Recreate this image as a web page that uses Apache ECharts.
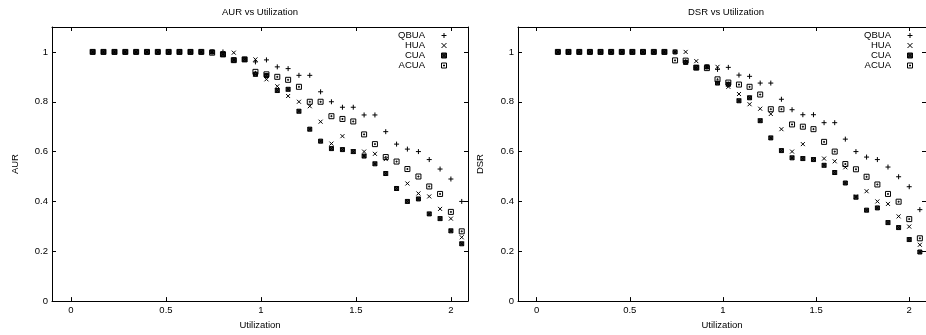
<!DOCTYPE html>
<html><head><meta charset="utf-8">
<script src="https://cdn.jsdelivr.net/npm/echarts@6/dist/echarts.min.js"></script>
<style>html,body{margin:0;padding:0;background:#fff}#c{width:926px;height:335px}</style>
</head><body><div id="c"></div>
<script>
const utilization = [0.114,0.171,0.229,0.286,0.343,0.400,0.457,0.514,0.571,0.629,0.686,0.743,0.800,0.857,0.914,0.971,1.029,1.086,1.143,1.200,1.257,1.314,1.371,1.429,1.486,1.543,1.600,1.657,1.714,1.771,1.829,1.886,1.943,2.000,2.057];

const aurQBUA = [1,1,1,1,1,1,1,1,1,1,1,1,1,0.967,0.97,0.96,0.968,0.94,0.933,0.906,0.906,0.84,0.80,0.778,0.778,0.747,0.747,0.68,0.63,0.61,0.60,0.568,0.53,0.49,0.40];
const aurHUA  = [1,1,1,1,1,1,1,1,1,1,1,1,0.995,0.997,0.97,0.97,0.89,0.862,0.823,0.80,0.782,0.72,0.632,0.662,0.60,0.60,0.591,0.57,0.45,0.472,0.432,0.42,0.37,0.331,0.256];
const aurCUA  = [1,1,1,1,1,1,1,1,1,1,1,1,0.99,0.967,0.97,0.91,0.905,0.845,0.85,0.762,0.69,0.642,0.612,0.608,0.60,0.582,0.551,0.512,0.452,0.40,0.41,0.35,0.331,0.282,0.23];
const aurACUA = [1,1,1,1,1,1,1,1,1,1,1,0.997,0.99,0.967,0.97,0.92,0.91,0.90,0.888,0.86,0.80,0.80,0.742,0.731,0.721,0.669,0.63,0.578,0.56,0.53,0.50,0.46,0.43,0.358,0.28];

const dsrQBUA = [1,1,1,1,1,1,1,1,1,1,1,1,0.96,0.937,0.94,0.93,0.938,0.907,0.902,0.875,0.875,0.81,0.768,0.748,0.748,0.716,0.716,0.65,0.60,0.578,0.568,0.538,0.499,0.459,0.367];
const dsrHUA  = [1,1,1,1,1,1,1,1,1,1,1,1,1.0,0.963,0.94,0.94,0.86,0.831,0.79,0.772,0.751,0.69,0.60,0.63,0.57,0.572,0.561,0.537,0.42,0.441,0.40,0.39,0.34,0.299,0.226];
const dsrCUA  = [1,1,1,1,1,1,1,1,1,1,1,1,0.958,0.937,0.94,0.875,0.87,0.804,0.816,0.724,0.655,0.604,0.575,0.572,0.568,0.545,0.516,0.474,0.417,0.365,0.374,0.315,0.295,0.247,0.197];
const dsrACUA = [1,1,1,1,1,1,1,1,1,1,1,0.966,0.965,0.937,0.935,0.89,0.877,0.869,0.86,0.829,0.77,0.77,0.709,0.70,0.69,0.639,0.60,0.55,0.529,0.499,0.468,0.43,0.399,0.329,0.252];

const seriesNames = ['QBUA','HUA','CUA','ACUA'];
const panelTitles = ['AUR vs Utilization','DSR vs Utilization'];
const yNames = ['AUR','DSR'];
const xName = 'Utilization';
const xTicks = [0,0.5,1,1.5,2];
const yTicks = [0,0.2,0.4,0.6,0.8,1];

const panels = [
  [aurQBUA, aurHUA, aurCUA, aurACUA],
  [dsrQBUA, dsrHUA, dsrCUA, dsrACUA]
];

const FONT = '"Liberation Sans", Arial, Helvetica, sans-serif';
const FS = 9.5;
const SYM = {
  QBUA: {symbol:'path://M5,0L5,10M0,5L10,5', size:5, fill:'none'},
  HUA:  {symbol:'path://M0,0L10,10M10,0L0,10', size:4, fill:'none'},
  CUA:  {symbol:'path://M0,0L10,0L10,10L0,10ZM0,0L10,10M10,0L0,10', size:4, fill:'#333'},
  ACUA: {symbol:'path://M0,0L10,0L10,10L0,10ZM4,4L6,4L6,6L4,6Z', size:5, fill:'none'}
};

const gridsPx = [
  {left:52, top:27, width:416, height:280},
  {left:518, top:27, width:415, height:280}
];
const titleX = [260, 726];
const yNameGap = [31.5, 32.5];
const legendRight = [472, 6];

const grid = [], xAxis = [], yAxis = [], series = [], graphic = [], legend = [];
const lineStyle = {color:'#000', width:1};
const legendData = seriesNames.map(name => ({
  name, icon: SYM[name].symbol,
  itemStyle:{color:SYM[name].fill, borderColor:'#000', borderWidth:1}
}));
gridsPx.forEach((g, gi) => {
  grid.push(Object.assign({containLabel:false}, g));
  xAxis.push({type:'value', gridIndex:gi, position:'bottom', min:-0.1, max:2.09,
    axisLine:{onZero:false, lineStyle},
    axisTick:{inside:true, length:4, customValues:xTicks, lineStyle},
    axisLabel:{customValues:xTicks, color:'#000', fontSize:FS, fontFamily:FONT, margin:4},
    splitLine:{show:false},
    name:xName, nameLocation:'middle', nameGap:18,
    nameTextStyle:{color:'#000', fontSize:FS, fontFamily:FONT}});
  xAxis.push({type:'value', gridIndex:gi, position:'top', min:-0.1, max:2.09,
    axisLine:{onZero:false, lineStyle},
    axisTick:{inside:true, length:4, customValues:xTicks, lineStyle},
    axisLabel:{show:false}, splitLine:{show:false}});
  yAxis.push({type:'value', gridIndex:gi, position:'left', min:0, max:1.1,
    axisLine:{show:true, onZero:false, lineStyle},
    axisTick:{show:true, inside:true, length:4, customValues:yTicks, lineStyle},
    axisLabel:{customValues:yTicks, color:'#000', fontSize:FS, fontFamily:FONT, margin:4},
    splitLine:{show:false},
    name:yNames[gi], nameLocation:'middle', nameGap:yNameGap[gi], nameRotate:90,
    nameTextStyle:{color:'#000', fontSize:FS, fontFamily:FONT}});
  yAxis.push({type:'value', gridIndex:gi, position:'right', min:0, max:1.1,
    axisLine:{show:true, onZero:false, lineStyle},
    axisTick:{show:true, inside:true, length:4, customValues:yTicks, lineStyle},
    axisLabel:{show:false}, splitLine:{show:false}});
  seriesNames.forEach((name, si) => {
    const s = SYM[name];
    series.push({type:'scatter', name, xAxisIndex:gi*2, yAxisIndex:gi*2,
      data: utilization.map((x, i) => [x, panels[gi][si][i]]),
      symbol:s.symbol, symbolSize:s.size,
      itemStyle:{color:s.fill, borderColor:'#000', borderWidth:1, opacity:1},
      emphasis:{disabled:true}, silent:true, z:2+si});
  });
  graphic.push({type:'text', x:titleX[gi], y:12.7,
    style:{text:panelTitles[gi], align:'center', verticalAlign:'middle', textAlign:'center', textVerticalAlign:'middle',
      fontSize:FS, fontFamily:FONT, fill:'#000'}});
  legend.push({data:legendData, orient:'vertical', align:'right', right:legendRight[gi], top:25.5,
    itemWidth:28, itemHeight:5, itemGap:0, symbolKeepAspect:true, selectedMode:false,
    itemStyle:{borderWidth:1, borderColor:'#000'},
    textStyle:{color:'#000', fontSize:FS, fontFamily:FONT, lineHeight:9.2}});
});

const chart = echarts.init(document.getElementById('c'), null, {renderer:'canvas'});
chart.setOption({animation:false, backgroundColor:'#fff', grid, xAxis, yAxis, series, graphic, legend});
</script>
</body></html>
